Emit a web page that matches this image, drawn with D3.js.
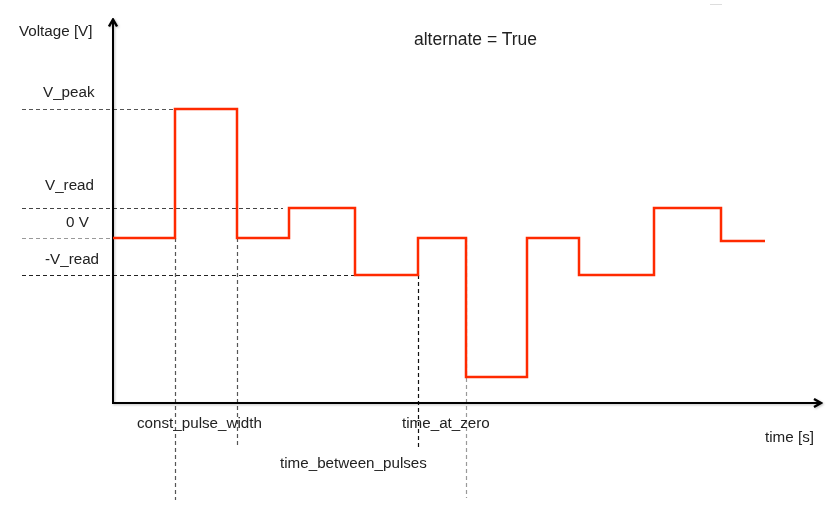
<!DOCTYPE html>
<html>
<head>
<meta charset="utf-8">
<script src="https://cdn.jsdelivr.net/npm/d3@7"></script>
<style>
  html, body { margin: 0; padding: 0; background: #fff; }
  svg { display: block; }
  text { font-family: "Liberation Sans", Arial, Helvetica, sans-serif; fill: #222; }
</style>
</head>
<body>
<svg id="chart" width="833" height="510"></svg>
<script>
// ---- data (time in arbitrary units, voltage in arbitrary units) ----
const stepTimes  = [0, 6.2, 12.4, 17.6, 24.2, 30.5, 35.3, 41.4, 46.6, 54.1, 60.8, 65.2];
const stepLevels = [0, 12.9, 0, 3.0, -3.7, 0, -13.9, 0, -3.7, 3.0, -0.3, -0.3];

const levelLabels = ["V_peak", "V_read", "0 V", "-V_read"];
const levelValues = [12.9, 3.0, 0, -3.7];
const levelGuideEnd = [6.2, 17.0, 0, 24.2];

const guideTimes  = [6.2, 12.4, 30.5, 35.3];
const guideTop    = [0, 0, -3.7, 0];
const guideBottom = [-26.2, -21.0, -21.0, -26.0];

const timeLabels = ["const_pulse_width", "time_at_zero", "time_between_pulses"];

// ---- scales ----
const svg = d3.select("#chart");
const x = d3.scaleLinear().domain([0, 71]).range([113, 823]);
const y = d3.scaleLinear().domain([-16.5, 22]).range([403, 18]);

// arrow marker
const defs = svg.append("defs");
defs.append("marker")
  .attr("id", "arrow")
  .attr("viewBox", "0 0 10 10")
  .attr("refX", 8).attr("refY", 5)
  .attr("markerUnits", "userSpaceOnUse")
  .attr("markerWidth", 10).attr("markerHeight", 10)
  .attr("orient", "auto")
  .append("path")
  .attr("d", "M1,1 L8,5 L1,9")
  .attr("fill", "none")
  .attr("stroke", "#000")
  .attr("stroke-width", 2.4)
  .attr("stroke-linejoin", "miter");

// ---- horizontal dashed guides ----
const hColors = ["#555", "#444", "#999", "#222"];
svg.append("g").selectAll("line")
  .data(levelValues)
  .join("line")
  .attr("x1", x(-9.1))
  .attr("x2", (d, i) => x(levelGuideEnd[i]))
  .attr("y1", d => Math.round(y(d)) + 0.5)
  .attr("y2", d => Math.round(y(d)) + 0.5)
  .attr("stroke", (d, i) => hColors[i])
  .attr("stroke-width", 1)
  .attr("stroke-dasharray", "4,3");

// ---- vertical dashed guides ----
const vColors = ["#555", "#555", "#111", "#999"];
svg.append("g").selectAll("line")
  .data(guideTimes)
  .join("line")
  .attr("x1", d => Math.round(x(d)) + 0.5)
  .attr("x2", d => Math.round(x(d)) + 0.5)
  .attr("y1", (d, i) => y(guideTop[i]))
  .attr("y2", (d, i) => y(guideBottom[i]))
  .attr("stroke", (d, i) => vColors[i])
  .attr("stroke-width", 1.2)
  .attr("stroke-dasharray", "4,3");

// ---- axes ----
const axes = svg.append("g").style("filter", "drop-shadow(1px 1px 1px rgba(0,0,0,0.25))");
const xAxis = axes.append("g")
  .attr("transform", `translate(0,${y(-16.5)})`)
  .call(d3.axisBottom(x).ticks(0).tickSizeOuter(0));
const yAxis = axes.append("g")
  .attr("transform", `translate(${x(0)},0)`)
  .call(d3.axisLeft(y).ticks(0).tickSizeOuter(0));
axes.selectAll(".domain")
  .attr("stroke", "#000")
  .attr("stroke-width", 2)
  .attr("marker-end", "url(#arrow)");
// make sure the y-axis path goes bottom -> top, x-axis left -> right
yAxis.select(".domain").attr("d", `M0,${y(-16.5)}V${y(22) + 1.5}`);
xAxis.select(".domain").attr("d", `M${x(0) - 1},0H${x(71) - 2}`);

// ---- waveform ----
const line = d3.line()
  .x(d => x(d[0]))
  .y(d => y(d[1]))
  .curve(d3.curveStepAfter);
svg.append("path")
  .datum(stepTimes.map((t, i) => [t, stepLevels[i]]))
  .attr("d", line)
  .attr("fill", "none")
  .attr("stroke", "#ff2a00")
  .attr("stroke-width", 2.5)
  .attr("stroke-linejoin", "miter");

// ---- texts ----
const fs = "15.2px";
svg.append("text").attr("x", 19).attr("y", 36).style("font-size", fs).text("Voltage [V]");
const labelPos = [[43, 97], [45, 190], [66, 227], [45, 264]];
svg.append("g").selectAll("text")
  .data(levelLabels)
  .join("text")
  .attr("x", (d, i) => labelPos[i][0])
  .attr("y", (d, i) => labelPos[i][1])
  .style("font-size", fs)
  .text(d => d);
const timeLabelPos = [[137, 428], [402, 428], [280, 468]];
svg.append("g").selectAll("text")
  .data(timeLabels)
  .join("text")
  .attr("x", (d, i) => timeLabelPos[i][0])
  .attr("y", (d, i) => timeLabelPos[i][1])
  .style("font-size", fs)
  .text(d => d);
svg.append("text").attr("x", 765).attr("y", 442).style("font-size", fs).text("time [s]");
svg.append("text").attr("x", 414).attr("y", 45).style("font-size", "17.5px").text("alternate = True");

// faint stray mark in the top-right corner
svg.append("line").attr("x1", 710).attr("x2", 722).attr("y1", 4.5).attr("y2", 4.5)
  .attr("stroke", "#ddd").attr("stroke-width", 1);
</script>
</body>
</html>
